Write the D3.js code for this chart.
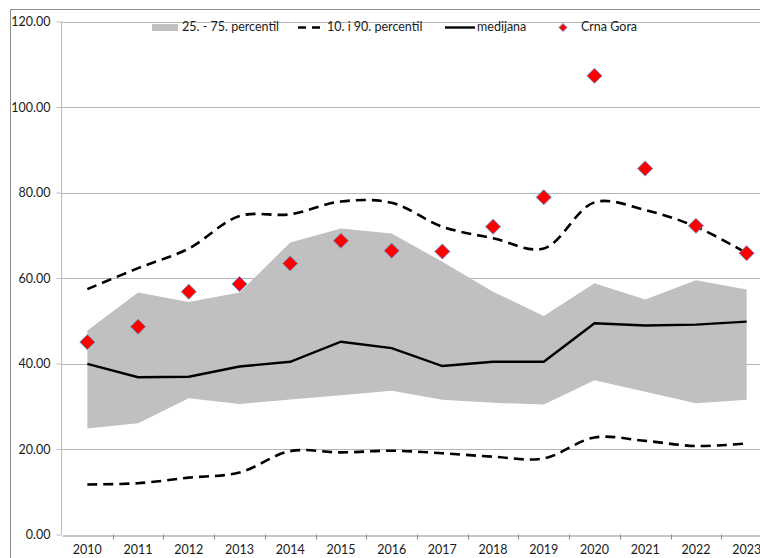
<!DOCTYPE html>
<html>
<head>
<meta charset="utf-8">
<script src="https://cdn.jsdelivr.net/npm/d3@7"></script>
<style>
  body { margin: 0; background: #fff; }
  svg { display: block; font-family: Lato, "Open Sans", sans-serif; }
</style>
</head>
<body>
<div id="chart"></div>
<script>
const years = ["2010","2011","2012","2013","2014","2015","2016","2017","2018","2019","2020","2021","2022","2023"]
const p10 = [11.7, 12.0, 13.3, 14.5, 19.5, 19.2, 19.6, 19.0, 18.2, 17.8, 22.7, 21.9, 20.7, 21.3]
const p25 = [24.8, 26.0, 31.9, 30.5, 31.6, 32.6, 33.6, 31.5, 30.8, 30.4, 36.1, 33.4, 30.7, 31.5]
const median = [39.9, 36.8, 36.9, 39.3, 40.4, 45.1, 43.6, 39.4, 40.4, 40.4, 49.4, 48.9, 49.1, 49.8]
const p75 = [47.7, 56.6, 54.4, 56.6, 68.3, 71.6, 70.4, 63.8, 56.8, 51.1, 58.8, 55.0, 59.5, 57.3]
const p90 = [57.4, 62.3, 66.9, 74.5, 74.9, 77.9, 77.6, 72.0, 69.3, 66.9, 77.7, 75.9, 72.0, 65.8]
const crnaGora = [45.0, 48.6, 56.8, 58.6, 63.4, 68.7, 66.4, 66.2, 72.0, 78.9, 107.3, 85.6, 72.2, 65.8]
const yTicks = [0, 20, 40, 60, 80, 100, 120]

const width = 760
const height = 558
const margin = {top: 21.5, right: -12, bottom: 23.5, left: 62}

const svg = d3.select("#chart")
    .append("svg")
    .attr("width", width)
    .attr("height", height)

const x = d3.scaleBand()
    .domain(years)
    .range([margin.left, width - margin.right])

const y = d3.scaleLinear()
    .domain([0, 120])
    .range([height - margin.bottom, margin.top])

const cx = d => x(d) + x.bandwidth() / 2

// chart frame
svg.append("path")
    .attr("d", `M10.5,${height} V9.5 H${width}`)
    .attr("fill", "none")
    .attr("stroke", "#8c8c8c")

// grid
svg.append("g")
    .selectAll("line")
    .data(yTicks.filter(d => d > 0))
    .join("line")
    .attr("x1", margin.left)
    .attr("x2", width)
    .attr("y1", d => Math.round(y(d)) + 0.5)
    .attr("y2", d => Math.round(y(d)) + 0.5)
    .attr("stroke", "#b4b4b4")

const rows = years.map((yr, i) => ({yr, p10: p10[i], p25: p25[i], med: median[i], p75: p75[i], p90: p90[i], cg: crnaGora[i]}))

// 25-75 band
svg.append("path")
    .datum(rows)
    .attr("fill", "#c0c0c0")
    .attr("d", d3.area()
        .x(d => cx(d.yr))
        .y0(d => y(d.p25))
        .y1(d => y(d.p75)))

const smooth = d3.curveCatmullRom.alpha(0.5)

for (const key of ["p10", "p90"]) {
    svg.append("path")
        .datum(rows)
        .attr("fill", "none")
        .attr("stroke", "#000")
        .attr("stroke-width", 2.6)
        .attr("stroke-dasharray", "10,6")
        .attr("d", d3.line().curve(smooth).x(d => cx(d.yr)).y(d => y(d[key])))
}

svg.append("path")
    .datum(rows)
    .attr("fill", "none")
    .attr("stroke", "#000")
    .attr("stroke-width", 2.4)
    .attr("d", d3.line().x(d => cx(d.yr)).y(d => y(d.med)))

const diamond = r => `M0,${-r} L${r},0 L0,${r} L${-r},0 Z`

svg.append("g")
    .selectAll("path")
    .data(rows)
    .join("path")
    .attr("transform", d => `translate(${cx(d.yr)},${y(d.cg)})`)
    .attr("d", diamond(7.5))
    .attr("fill", "#ff0000")
    .attr("stroke", "#6f8fc0")
    .attr("stroke-width", 1)

// axes
const yAxis = svg.append("g")
    .attr("transform", `translate(${margin.left - 0.5},0)`)
    .call(d3.axisLeft(y).tickValues(yTicks).tickFormat(d3.format(".2f")).tickSize(5).tickPadding(6))
yAxis.selectAll("path, line").attr("stroke", "#bdbdbd")
yAxis.select(".domain").attr("d", `M0,${y(0)}V${y(120)}`)

const xAxis = svg.append("g")
    .attr("transform", `translate(0,${Math.round(y(0)) + 0.5})`)
    .call(d3.axisBottom(x).tickSize(0).tickSizeOuter(0).tickPadding(10))
xAxis.select(".domain").attr("stroke", "#8c8c8c")
xAxis.selectAll(".tick line").remove()
svg.append("g")
    .selectAll("line")
    .data(years.slice(1).concat(["end"]))
    .join("line")
    .attr("x1", (d, i) => Math.round(x(years[0]) + x.bandwidth() * (i + 1)) + 0.5)
    .attr("x2", (d, i) => Math.round(x(years[0]) + x.bandwidth() * (i + 1)) + 0.5)
    .attr("y1", y(0))
    .attr("y2", y(0) + 5)
    .attr("stroke", "#8c8c8c")

svg.selectAll(".tick text")
    .attr("font-size", 12.5)
    .attr("font-family", "Lato, 'Open Sans', sans-serif")
    .attr("fill", "#1a1a1a")

// legend
const legend = svg.append("g").attr("font-size", 12.5).attr("fill", "#1a1a1a")
legend.append("rect")
    .attr("x", 152).attr("y", 24).attr("width", 26).attr("height", 7)
    .attr("fill", "#c0c0c0")
legend.append("text").attr("x", 182).attr("y", 31).text("25. - 75. percentil")
legend.append("line")
    .attr("x1", 298).attr("x2", 325).attr("y1", 27.5).attr("y2", 27.5)
    .attr("stroke", "#000").attr("stroke-width", 2.6).attr("stroke-dasharray", "8,6")
legend.append("text").attr("x", 327).attr("y", 31).text("10. i 90. percentil")
legend.append("line")
    .attr("x1", 445).attr("x2", 475).attr("y1", 27.5).attr("y2", 27.5)
    .attr("stroke", "#000").attr("stroke-width", 2.4)
legend.append("text").attr("x", 477).attr("y", 31).text("medijana")
legend.append("path")
    .attr("transform", "translate(563,27.5)")
    .attr("d", diamond(4))
    .attr("fill", "#ff0000").attr("stroke", "#6f8fc0")
legend.append("text").attr("x", 581).attr("y", 31).text("Crna Gora")
</script>
</body>
</html>
